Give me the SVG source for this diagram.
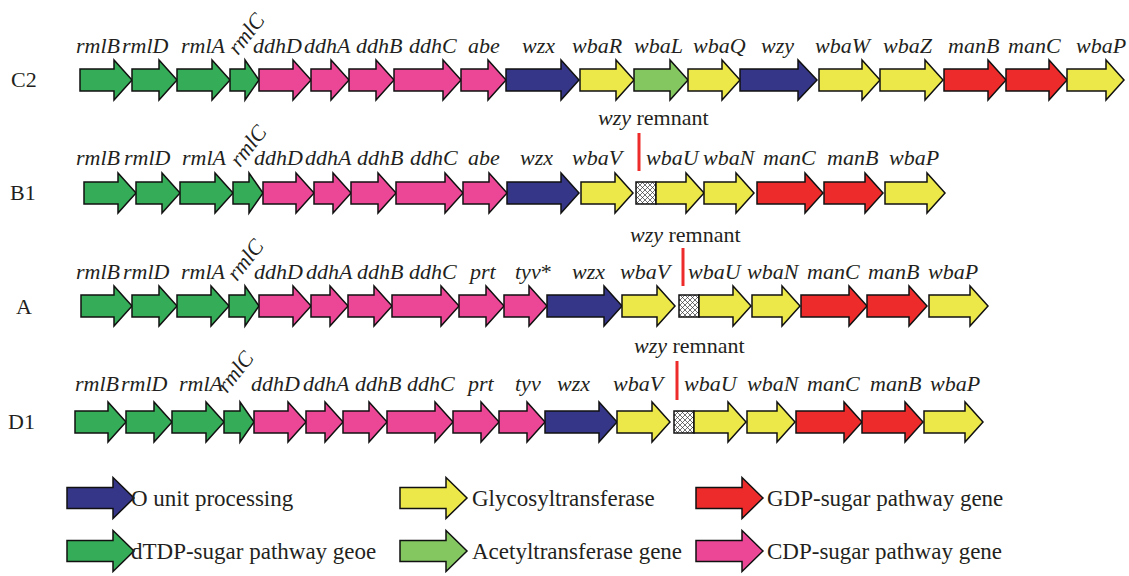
<svg xmlns="http://www.w3.org/2000/svg" width="1129" height="576" viewBox="0 0 1129 576">
<style>
.t{font-family:"Liberation Serif","Times New Roman",serif;font-size:22px;fill:#231F20}
.g{font-style:italic}
.lg{font-family:"Liberation Serif","Times New Roman",serif;font-size:23px;fill:#231F20}
.a{stroke:#111;stroke-width:1.5;stroke-linejoin:miter}
.dT{fill:#35AC57}.cD{fill:#EC4797}.oU{fill:#363689}.gT{fill:#ECE84A}.aT{fill:#84C761}.gD{fill:#EE2B2B}
.bar{stroke:#EE2B2B;stroke-width:3}
.box{fill:url(#hatch);stroke:#111;stroke-width:1.5}
</style>
<defs>
<pattern id="hatch" width="5" height="5" patternUnits="userSpaceOnUse">
<rect width="5" height="5" fill="#fff"/>
<path d="M0,0 L5,5 M5,0 L0,5" stroke="#333" stroke-width="0.7"/>
</pattern>
</defs>
<rect width="1129" height="576" fill="#fff"/>

<!-- Row C2 -->
<g id="row-C2">
<text class="t" x="11" y="87">C2</text>
<g class="t g">
<text x="76" y="53">rmlB</text><text x="122" y="53">rmlD</text><text x="181" y="53">rmlA</text>
<text transform="translate(238,56) rotate(-52)">rmlC</text>
<text x="253" y="53">ddhD</text><text x="304" y="53">ddhA</text><text x="356" y="53">ddhB</text><text x="409" y="53">ddhC</text>
<text x="468" y="53">abe</text><text x="522" y="53">wzx</text><text x="572" y="53">wbaR</text><text x="634" y="53">wbaL</text>
<text x="693" y="53">wbaQ</text><text x="761" y="53">wzy</text><text x="815" y="53">wbaW</text><text x="883" y="53">wbaZ</text>
<text x="948" y="53">manB</text><text x="1008" y="53">manC</text><text x="1076" y="53">wbaP</text>
</g>
<g id="C2-rmlB" transform="translate(80,80)"><polygon class="a dT" points="0,-11 34,-11 34,-20 52,0 34,20 34,11 0,11"/></g>
<g id="C2-rmlD" transform="translate(132,80)"><polygon class="a dT" points="0,-11 27,-11 27,-20 45,0 27,20 27,11 0,11"/></g>
<g id="C2-rmlA" transform="translate(177,80)"><polygon class="a dT" points="0,-11 35,-11 35,-20 53,0 35,20 35,11 0,11"/></g>
<g id="C2-rmlC" transform="translate(230,80)"><polygon class="a dT" points="0,-11 15,-11 15,-20 29,0 15,20 15,11 0,11"/></g>
<g id="C2-ddhD" transform="translate(259,80)"><polygon class="a cD" points="0,-11 34,-11 34,-20 52,0 34,20 34,11 0,11"/></g>
<g id="C2-ddhA" transform="translate(311,80)"><polygon class="a cD" points="0,-11 20,-11 20,-20 38,0 20,20 20,11 0,11"/></g>
<g id="C2-ddhB" transform="translate(349,80)"><polygon class="a cD" points="0,-11 27,-11 27,-20 45,0 27,20 27,11 0,11"/></g>
<g id="C2-ddhC" transform="translate(394,80)"><polygon class="a cD" points="0,-11 49,-11 49,-20 67,0 49,20 49,11 0,11"/></g>
<g id="C2-abe" transform="translate(461,80)"><polygon class="a cD" points="0,-11 27,-11 27,-20 45,0 27,20 27,11 0,11"/></g>
<g id="C2-wzx" transform="translate(506,80)"><polygon class="a oU" points="0,-11 55,-11 55,-20 73,0 55,20 55,11 0,11"/></g>
<g id="C2-wbaR" transform="translate(580,80)"><polygon class="a gT" points="0,-11 36,-11 36,-20 54,0 36,20 36,11 0,11"/></g>
<g id="C2-wbaL" transform="translate(634,80)"><polygon class="a aT" points="0,-11 36,-11 36,-20 54,0 36,20 36,11 0,11"/></g>
<g id="C2-wbaQ" transform="translate(688,80)"><polygon class="a gT" points="0,-11 34,-11 34,-20 52,0 34,20 34,11 0,11"/></g>
<g id="C2-wzy" transform="translate(740,80)"><polygon class="a oU" points="0,-11 58,-11 58,-20 77,0 58,20 58,11 0,11"/></g>
<g id="C2-wbaW" transform="translate(819,80)"><polygon class="a gT" points="0,-11 43,-11 43,-20 61,0 43,20 43,11 0,11"/></g>
<g id="C2-wbaZ" transform="translate(880,80)"><polygon class="a gT" points="0,-11 45,-11 45,-20 63,0 45,20 45,11 0,11"/></g>
<g id="C2-manB" transform="translate(944,80)"><polygon class="a gD" points="0,-11 44,-11 44,-20 62,0 44,20 44,11 0,11"/></g>
<g id="C2-manC" transform="translate(1006,80)"><polygon class="a gD" points="0,-11 43,-11 43,-20 61,0 43,20 43,11 0,11"/></g>
<g id="C2-wbaP" transform="translate(1067,80)"><polygon class="a gT" points="0,-11 39,-11 39,-20 57,0 39,20 39,11 0,11"/></g>
</g>

<!-- Row B1 -->
<g id="row-B1">
<text class="t" x="10" y="200">B1</text>
<text class="t" x="598" y="125"><tspan class="g">wzy</tspan> remnant</text>
<line class="bar" x1="639" y1="133" x2="639" y2="171"/>
<g class="t g">
<text x="76" y="165">rmlB</text><text x="124" y="165">rmlD</text><text x="182" y="165">rmlA</text>
<text transform="translate(240,168) rotate(-52)">rmlC</text>
<text x="254" y="165">ddhD</text><text x="305" y="165">ddhA</text><text x="357" y="165">ddhB</text><text x="410" y="165">ddhC</text>
<text x="468" y="165">abe</text><text x="520" y="165">wzx</text><text x="572" y="165">wbaV</text>
<text x="646" y="165">wbaU</text><text x="703" y="165">wbaN</text><text x="763" y="165">manC</text><text x="827" y="165">manB</text><text x="889" y="165">wbaP</text>
</g>
<g id="B1-rmlB" transform="translate(84,193)"><polygon class="a dT" points="0,-11 34,-11 34,-20 52,0 34,20 34,11 0,11"/></g>
<g id="B1-rmlD" transform="translate(136,193)"><polygon class="a dT" points="0,-11 26,-11 26,-20 44,0 26,20 26,11 0,11"/></g>
<g id="B1-rmlA" transform="translate(180,193)"><polygon class="a dT" points="0,-11 35,-11 35,-20 53,0 35,20 35,11 0,11"/></g>
<g id="B1-rmlC" transform="translate(233,193)"><polygon class="a dT" points="0,-11 16,-11 16,-20 30,0 16,20 16,11 0,11"/></g>
<g id="B1-ddhD" transform="translate(263,193)"><polygon class="a cD" points="0,-11 33,-11 33,-20 51,0 33,20 33,11 0,11"/></g>
<g id="B1-ddhA" transform="translate(314,193)"><polygon class="a cD" points="0,-11 19,-11 19,-20 37,0 19,20 19,11 0,11"/></g>
<g id="B1-ddhB" transform="translate(351,193)"><polygon class="a cD" points="0,-11 27,-11 27,-20 45,0 27,20 27,11 0,11"/></g>
<g id="B1-ddhC" transform="translate(396,193)"><polygon class="a cD" points="0,-11 49,-11 49,-20 67,0 49,20 49,11 0,11"/></g>
<g id="B1-abe" transform="translate(463,193)"><polygon class="a cD" points="0,-11 26,-11 26,-20 44,0 26,20 26,11 0,11"/></g>
<g id="B1-wzx" transform="translate(507,193)"><polygon class="a oU" points="0,-11 54,-11 54,-20 72,0 54,20 54,11 0,11"/></g>
<g id="B1-wbaV" transform="translate(581,193)"><polygon class="a gT" points="0,-11 34,-11 34,-20 52,0 34,20 34,11 0,11"/></g>
<g id="B1-wzy-remnant"><rect class="box" x="636" y="182" width="20" height="22"/></g>
<g id="B1-wbaU" transform="translate(656,193)"><polygon class="a gT" points="0,-11 30,-11 30,-20 48,0 30,20 30,11 0,11"/></g>
<g id="B1-wbaN" transform="translate(704,193)"><polygon class="a gT" points="0,-11 32,-11 32,-20 50,0 32,20 32,11 0,11"/></g>
<g id="B1-manC" transform="translate(757,193)"><polygon class="a gD" points="0,-11 48,-11 48,-20 66,0 48,20 48,11 0,11"/></g>
<g id="B1-manB" transform="translate(824,193)"><polygon class="a gD" points="0,-11 41,-11 41,-20 59,0 41,20 41,11 0,11"/></g>
<g id="B1-wbaP" transform="translate(885,193)"><polygon class="a gT" points="0,-11 42,-11 42,-20 60,0 42,20 42,11 0,11"/></g>
</g>

<!-- Row A -->
<g id="row-A">
<text class="t" x="16" y="314">A</text>
<text class="t" x="630" y="242"><tspan class="g">wzy</tspan> remnant</text>
<line class="bar" x1="683" y1="248" x2="683" y2="286"/>
<g class="t g">
<text x="76" y="279">rmlB</text><text x="123" y="279">rmlD</text><text x="181" y="279">rmlA</text>
<text transform="translate(237,282) rotate(-52)">rmlC</text>
<text x="254" y="279">ddhD</text><text x="306" y="279">ddhA</text><text x="357" y="279">ddhB</text><text x="409" y="279">ddhC</text>
<text x="470" y="279">prt</text><text x="515" y="279">tyv<tspan font-style="normal">*</tspan></text>
<text x="572" y="279">wzx</text><text x="620" y="279">wbaV</text>
<text x="688" y="279">wbaU</text><text x="747" y="279">wbaN</text><text x="807" y="279">manC</text><text x="868" y="279">manB</text><text x="928" y="279">wbaP</text>
</g>
<g id="A-rmlB" transform="translate(81,306)"><polygon class="a dT" points="0,-11 33,-11 33,-20 51,0 33,20 33,11 0,11"/></g>
<g id="A-rmlD" transform="translate(132,306)"><polygon class="a dT" points="0,-11 27,-11 27,-20 45,0 27,20 27,11 0,11"/></g>
<g id="A-rmlA" transform="translate(177,306)"><polygon class="a dT" points="0,-11 34,-11 34,-20 52,0 34,20 34,11 0,11"/></g>
<g id="A-rmlC" transform="translate(229,306)"><polygon class="a dT" points="0,-11 16,-11 16,-20 30,0 16,20 16,11 0,11"/></g>
<g id="A-ddhD" transform="translate(259,306)"><polygon class="a cD" points="0,-11 34,-11 34,-20 52,0 34,20 34,11 0,11"/></g>
<g id="A-ddhA" transform="translate(311,306)"><polygon class="a cD" points="0,-11 19,-11 19,-20 37,0 19,20 19,11 0,11"/></g>
<g id="A-ddhB" transform="translate(348,306)"><polygon class="a cD" points="0,-11 26,-11 26,-20 44,0 26,20 26,11 0,11"/></g>
<g id="A-ddhC" transform="translate(392,306)"><polygon class="a cD" points="0,-11 49,-11 49,-20 67,0 49,20 49,11 0,11"/></g>
<g id="A-prt" transform="translate(459,306)"><polygon class="a cD" points="0,-11 27,-11 27,-20 45,0 27,20 27,11 0,11"/></g>
<g id="A-tyv" transform="translate(504,306)"><polygon class="a cD" points="0,-11 25,-11 25,-20 43,0 25,20 25,11 0,11"/></g>
<g id="A-wzx" transform="translate(547,306)"><polygon class="a oU" points="0,-11 57,-11 57,-20 75,0 57,20 57,11 0,11"/></g>
<g id="A-wbaV" transform="translate(622,306)"><polygon class="a gT" points="0,-11 35,-11 35,-20 53,0 35,20 35,11 0,11"/></g>
<g id="A-wzy-remnant"><rect class="box" x="679" y="295" width="20" height="22"/></g>
<g id="A-wbaU" transform="translate(699,306)"><polygon class="a gT" points="0,-11 34,-11 34,-20 52,0 34,20 34,11 0,11"/></g>
<g id="A-wbaN" transform="translate(752,306)"><polygon class="a gT" points="0,-11 30,-11 30,-20 48,0 30,20 30,11 0,11"/></g>
<g id="A-manC" transform="translate(801,306)"><polygon class="a gD" points="0,-11 48,-11 48,-20 66,0 48,20 48,11 0,11"/></g>
<g id="A-manB" transform="translate(867,306)"><polygon class="a gD" points="0,-11 42,-11 42,-20 60,0 42,20 42,11 0,11"/></g>
<g id="A-wbaP" transform="translate(929,306)"><polygon class="a gT" points="0,-11 41,-11 41,-20 59,0 41,20 41,11 0,11"/></g>
</g>

<!-- Row D1 -->
<g id="row-D1">
<text class="t" x="8" y="429">D1</text>
<text class="t" x="634" y="353"><tspan class="g">wzy</tspan> remnant</text>
<line class="bar" x1="677" y1="361" x2="677" y2="400"/>
<g class="t g">
<text x="75" y="391">rmlB</text><text x="121" y="391">rmlD</text><text x="179" y="391">rmlA</text>
<text transform="translate(227,394) rotate(-52)">rmlC</text>
<text x="251" y="391">ddhD</text><text x="303" y="391">ddhA</text><text x="355" y="391">ddhB</text><text x="407" y="391">ddhC</text>
<text x="468" y="391">prt</text><text x="515" y="391">tyv</text>
<text x="557" y="391">wzx</text><text x="613" y="391">wbaV</text>
<text x="684" y="391">wbaU</text><text x="747" y="391">wbaN</text><text x="807" y="391">manC</text><text x="870" y="391">manB</text><text x="930" y="391">wbaP</text>
</g>
<g id="D1-rmlB" transform="translate(75,422)"><polygon class="a dT" points="0,-11 33,-11 33,-20 51,0 33,20 33,11 0,11"/></g>
<g id="D1-rmlD" transform="translate(126,422)"><polygon class="a dT" points="0,-11 28,-11 28,-20 46,0 28,20 28,11 0,11"/></g>
<g id="D1-rmlA" transform="translate(172,422)"><polygon class="a dT" points="0,-11 34,-11 34,-20 52,0 34,20 34,11 0,11"/></g>
<g id="D1-rmlC" transform="translate(224,422)"><polygon class="a dT" points="0,-11 16,-11 16,-20 30,0 16,20 16,11 0,11"/></g>
<g id="D1-ddhD" transform="translate(254,422)"><polygon class="a cD" points="0,-11 34,-11 34,-20 52,0 34,20 34,11 0,11"/></g>
<g id="D1-ddhA" transform="translate(306,422)"><polygon class="a cD" points="0,-11 19,-11 19,-20 37,0 19,20 19,11 0,11"/></g>
<g id="D1-ddhB" transform="translate(343,422)"><polygon class="a cD" points="0,-11 26,-11 26,-20 44,0 26,20 26,11 0,11"/></g>
<g id="D1-ddhC" transform="translate(387,422)"><polygon class="a cD" points="0,-11 48,-11 48,-20 66,0 48,20 48,11 0,11"/></g>
<g id="D1-prt" transform="translate(453,422)"><polygon class="a cD" points="0,-11 28,-11 28,-20 46,0 28,20 28,11 0,11"/></g>
<g id="D1-tyv" transform="translate(499,422)"><polygon class="a cD" points="0,-11 28,-11 28,-20 46,0 28,20 28,11 0,11"/></g>
<g id="D1-wzx" transform="translate(545,422)"><polygon class="a oU" points="0,-11 54,-11 54,-20 72,0 54,20 54,11 0,11"/></g>
<g id="D1-wbaV" transform="translate(617,422)"><polygon class="a gT" points="0,-11 35,-11 35,-20 53,0 35,20 35,11 0,11"/></g>
<g id="D1-wzy-remnant"><rect class="box" x="674" y="411" width="20" height="22"/></g>
<g id="D1-wbaU" transform="translate(694,422)"><polygon class="a gT" points="0,-11 34,-11 34,-20 52,0 34,20 34,11 0,11"/></g>
<g id="D1-wbaN" transform="translate(747,422)"><polygon class="a gT" points="0,-11 30,-11 30,-20 48,0 30,20 30,11 0,11"/></g>
<g id="D1-manC" transform="translate(796,422)"><polygon class="a gD" points="0,-11 48,-11 48,-20 66,0 48,20 48,11 0,11"/></g>
<g id="D1-manB" transform="translate(862,422)"><polygon class="a gD" points="0,-11 43,-11 43,-20 61,0 43,20 43,11 0,11"/></g>
<g id="D1-wbaP" transform="translate(924,422)"><polygon class="a gT" points="0,-11 41,-11 41,-20 59,0 41,20 41,11 0,11"/></g>
</g>

<!-- Legend -->
<g id="legend-O-unit" transform="translate(67,498)"><polygon class="a oU" points="0,-10.5 46,-10.5 46,-20.5 67,0 46,20.5 46,10.5 0,10.5"/><text class="lg" x="64" y="8">O unit processing</text></g>
<g id="legend-glyco" transform="translate(400,498)"><polygon class="a gT" points="0,-10.5 46,-10.5 46,-20.5 67,0 46,20.5 46,10.5 0,10.5"/><text class="lg" x="72" y="8">Glycosyltransferase</text></g>
<g id="legend-GDP" transform="translate(696,498)"><polygon class="a gD" points="0,-10.5 46,-10.5 46,-20.5 67,0 46,20.5 46,10.5 0,10.5"/><text class="lg" x="71" y="8">GDP-sugar pathway gene</text></g>
<g id="legend-dTDP" transform="translate(67,551)"><polygon class="a dT" points="0,-10.5 46,-10.5 46,-20.5 67,0 46,20.5 46,10.5 0,10.5"/><text class="lg" x="64" y="8">dTDP-sugar pathway geoe</text></g>
<g id="legend-acetyl" transform="translate(400,551)"><polygon class="a aT" points="0,-10.5 46,-10.5 46,-20.5 67,0 46,20.5 46,10.5 0,10.5"/><text class="lg" x="72" y="8">Acetyltransferase gene</text></g>
<g id="legend-CDP" transform="translate(696,551)"><polygon class="a cD" points="0,-10.5 46,-10.5 46,-20.5 67,0 46,20.5 46,10.5 0,10.5"/><text class="lg" x="71" y="8">CDP-sugar pathway gene</text></g>
</svg>
